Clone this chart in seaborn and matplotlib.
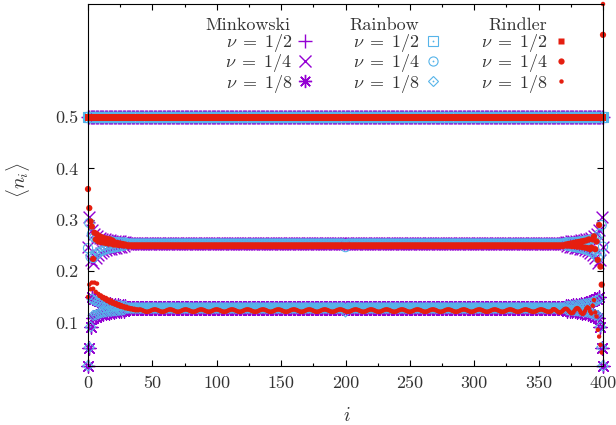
import numpy as np
import matplotlib
matplotlib.use("Agg")
import matplotlib.pyplot as plt
from matplotlib.lines import Line2D
from matplotlib.legend import Legend
import seaborn as sns

# ---------------------------------------------------------------------------
# Occupation numbers <n_i> on a 401-site chain
# Each series: values near the left boundary, the repeating bulk pattern,
# and values near the right boundary.
# ---------------------------------------------------------------------------
n_sites = 401
sites = np.arange(n_sites)

half_bulk = [0.5]

# Minkowski
mink_q_head = [0.248, 0.306, 0.222, 0.280, 0.217, 0.272, 0.226, 0.268, 0.232, 0.265,
               0.236, 0.263, 0.239, 0.262, 0.241, 0.261, 0.243, 0.260, 0.244, 0.259,
               0.245, 0.259, 0.246, 0.258, 0.247, 0.258, 0.248, 0.257, 0.249, 0.257]
mink_q_bulk = [0.2545, 0.2525]
mink_q_tail = [0.257, 0.249, 0.257, 0.248, 0.258, 0.247, 0.258, 0.246, 0.259, 0.245,
               0.259, 0.244, 0.260, 0.243, 0.261, 0.241, 0.262, 0.239, 0.263, 0.236,
               0.265, 0.232, 0.268, 0.226, 0.272, 0.217, 0.280, 0.222, 0.306, 0.248]

mink_e_head = [0.0157, 0.051, 0.0915, 0.150, 0.110, 0.147, 0.112, 0.144, 0.114, 0.142,
               0.116, 0.140, 0.117, 0.139, 0.118, 0.137, 0.119, 0.136, 0.120, 0.135,
               0.121, 0.134, 0.122, 0.134, 0.122, 0.133, 0.123, 0.133, 0.123, 0.132]
mink_e_bulk = [0.1292, 0.1276]
mink_e_tail = [0.132, 0.123, 0.133, 0.123, 0.133, 0.122, 0.134, 0.122, 0.134, 0.121,
               0.135, 0.120, 0.136, 0.119, 0.137, 0.118, 0.139, 0.117, 0.140, 0.116,
               0.142, 0.114, 0.144, 0.112, 0.147, 0.110, 0.150, 0.0915, 0.051, 0.0157]

# Rainbow
rain_q_head = [0.245, 0.294, 0.228, 0.272, 0.226, 0.266, 0.232, 0.264, 0.236, 0.262,
               0.239, 0.261, 0.241, 0.260, 0.243, 0.259, 0.244, 0.258, 0.245, 0.258,
               0.246, 0.257, 0.247, 0.257, 0.248, 0.256, 0.249, 0.256, 0.250, 0.256]
rain_q_bulk = [0.2540, 0.2530]
rain_q_tail = [0.256, 0.250, 0.256, 0.249, 0.256, 0.248, 0.257, 0.247, 0.257, 0.246,
               0.258, 0.245, 0.258, 0.244, 0.259, 0.243, 0.260, 0.241, 0.261, 0.239,
               0.262, 0.236, 0.264, 0.232, 0.266, 0.226, 0.272, 0.232, 0.290, 0.248]
rain_q_mid = {200: 0.247}

rain_e_head = [0.0160, 0.052, 0.092, 0.146, 0.114, 0.143, 0.115, 0.141, 0.117, 0.139,
               0.119, 0.138, 0.120, 0.137, 0.121, 0.136, 0.122, 0.135, 0.122, 0.134,
               0.123, 0.134, 0.123, 0.133, 0.124, 0.133, 0.124, 0.132, 0.125, 0.132]
rain_e_bulk = [0.1290, 0.1280]
rain_e_tail = [0.132, 0.125, 0.132, 0.124, 0.133, 0.124, 0.133, 0.123, 0.134, 0.123,
               0.134, 0.122, 0.135, 0.122, 0.136, 0.121, 0.137, 0.120, 0.138, 0.119,
               0.139, 0.117, 0.141, 0.115, 0.143, 0.114, 0.146, 0.092, 0.052, 0.0160]
rain_e_mid = {200: 0.121}

# Rindler
rind_q_head = [0.360, 0.323, 0.297, 0.287, 0.224, 0.275, 0.262, 0.272, 0.258, 0.268,
               0.257, 0.266, 0.256, 0.264, 0.255, 0.263, 0.254, 0.262, 0.254, 0.260,
               0.252, 0.256, 0.252, 0.255, 0.251, 0.254, 0.251, 0.253, 0.250, 0.252]
rind_q_bulk = [0.2505, 0.2490]
rind_q_tail = [0.252, 0.250, 0.253, 0.250, 0.254, 0.249, 0.255, 0.249, 0.256, 0.248,
               0.257, 0.248, 0.258, 0.247, 0.259, 0.246, 0.260, 0.245, 0.262, 0.243,
               0.246, 0.262, 0.268, 0.243, 0.258, 0.222, 0.290, 0.209, 0.174, 0.660]

rind_e_head = [0.150, 0.174, 0.165, 0.178, 0.166, 0.178, 0.160, 0.176, 0.156, 0.152,
               0.153, 0.148, 0.150, 0.145, 0.148, 0.142, 0.145, 0.139, 0.143, 0.137,
               0.140, 0.135, 0.138, 0.133, 0.136, 0.131, 0.134, 0.130, 0.132, 0.128,
               0.131, 0.127, 0.129, 0.126, 0.128, 0.125, 0.127, 0.124, 0.126, 0.124]
rind_e_bulk = [0.1258, 0.1254, 0.1245, 0.1233, 0.1222, 0.1214,
               0.1212, 0.1216, 0.1225, 0.1237, 0.1248, 0.1256]
rind_e_tail = [0.1258, 0.1262, 0.1250, 0.1230, 0.1210, 0.1198, 0.1200, 0.1215, 0.1240, 0.1262,
               0.1272, 0.1265, 0.1240, 0.1210, 0.1188, 0.1185, 0.1205, 0.1240, 0.1272, 0.1285,
               0.1270, 0.1232, 0.1192, 0.1170, 0.1182, 0.1225, 0.1275, 0.1300, 0.1280, 0.1220,
               0.118, 0.133, 0.144, 0.120, 0.112, 0.086, 0.073, 0.057, 0.042, 0.720]

nu_labels = [r"$\nu\;=\;1/2$", r"$\nu\;=\;1/4$", r"$\nu\;=\;1/8$"]
group_titles = ["Minkowski", "Rainbow", "Rindler"]


def build(head, bulk, tail, mid=None):
    n_bulk = n_sites - len(head) - len(tail)
    reps = -(-n_bulk // len(bulk))
    vals = np.array(list(head) + (list(bulk) * reps)[:n_bulk] + list(tail), dtype=float)
    for k, v in (mid or {}).items():
        vals[k] = v
    return vals


mink = [build([], half_bulk, []),
        build(mink_q_head, mink_q_bulk, mink_q_tail),
        build(mink_e_head, mink_e_bulk, mink_e_tail)]
rain = [build([], half_bulk, []),
        build(rain_q_head, rain_q_bulk, rain_q_tail, rain_q_mid),
        build(rain_e_head, rain_e_bulk, rain_e_tail, rain_e_mid)]
rind = [build([], half_bulk, []),
        build(rind_q_head, rind_q_bulk, rind_q_tail),
        build(rind_e_head, rind_e_bulk, rind_e_tail)]

# ---------------------------------------------------------------------------
PURPLE = "#9400d3"
BLUE = "#56b4e9"
RED = "#e51e10"
TEXT = "#333333"

sns.set_style("ticks")
plt.rcParams.update({
    "font.family": "cmr10",
    "mathtext.fontset": "cm",
    "axes.unicode_minus": False,
    "axes.formatter.use_mathtext": False,
    "font.size": 13,
    "text.color": TEXT,
    "axes.labelcolor": TEXT,
    "xtick.labelcolor": TEXT,
    "ytick.labelcolor": TEXT,
    "axes.edgecolor": "black",
    "axes.linewidth": 0.8,
})

fig = plt.figure(figsize=(6.16, 4.25), dpi=100)
ax = fig.add_axes([88 / 616, 59 / 425, 515 / 616, 362 / 425])

star8 = (8, 2, 0)
mink_style = [dict(marker="+", ms=10.0), dict(marker="x", ms=8.5), dict(marker=star8, ms=9.5)]
rain_style = [dict(marker="s", ms=7.6), dict(marker="o", ms=6.6), dict(marker="D", ms=5.2)]
rind_style = [dict(marker="s", ms=5.0), dict(marker="o", ms=4.5), dict(marker="o", ms=3.2)]

common = dict(ax=ax, legend=False, clip_on=False)

for vals, st in zip(mink, mink_style):
    sns.scatterplot(x=sites, y=vals, marker=st["marker"], s=st["ms"] ** 2,
                    color=PURPLE, linewidth=1.0, zorder=1.0, **common)

for vals, st in zip(rain, rain_style):
    sns.scatterplot(x=sites, y=vals, marker=st["marker"], s=st["ms"] ** 2,
                    facecolor="none", edgecolor=BLUE, color=BLUE, linewidth=0.8,
                    zorder=1.2, **common)
    sns.scatterplot(x=sites, y=vals, marker="o", s=1.3 ** 2,
                    color=BLUE, edgecolor="none", linewidth=0, zorder=1.2, **common)

for vals, st in zip(rind, rind_style):
    sns.scatterplot(x=sites, y=vals, marker=st["marker"], s=st["ms"] ** 2,
                    color=RED, edgecolor="none", linewidth=0, zorder=1.4, **common)

# axes ranges follow the data extent
all_vals = np.concatenate(mink + rain + rind)
ax.set_xlim(0, 400)
ax.set_ylim(all_vals.min(), all_vals.max())

ax.set_xticks(np.arange(0, 401, 50))
ax.set_xticks(np.arange(25, 400, 50), minor=True)
ax.set_yticks([0.1, 0.2, 0.3, 0.4, 0.5])
ax.set_yticklabels(["0.1", "0.2", "0.3", "0.4", "0.5"])
ax.tick_params(which="both", direction="in", top=True, right=True, width=0.8,
               color="black")
ax.tick_params(which="major", length=4.5, labelsize=13)
ax.tick_params(axis="x", which="major", pad=7)
ax.tick_params(axis="y", which="major", pad=7)
ax.tick_params(which="minor", length=2.3)

ax.set_xlabel(r"$i$", fontsize=14)
ax.set_ylabel(r"$\langle n_i \rangle$", fontsize=14)
ax.xaxis.set_label_coords(0.503, -0.112)
ax.yaxis.set_label_coords(-0.108, 0.514)

# legend: three columns, one per geometry
def handles_for(styles, color, kind):
    out = []
    for st in styles:
        if kind == "line":
            out.append(Line2D([], [], ls="none", marker=st["marker"], ms=st["ms"],
                              color=color, mew=1.0))
        elif kind == "open":
            box = Line2D([], [], ls="none", marker=st["marker"], ms=st["ms"],
                         mfc="none", mec=color, mew=0.8)
            dot = Line2D([], [], ls="none", marker="o", ms=1.3, mfc=color, mec="none")
            out.append((box, dot))
        else:
            out.append(Line2D([], [], ls="none", marker=st["marker"], ms=st["ms"],
                              mfc=color, mec="none"))
    return out

legend_cols = [
    (handles_for(mink_style, PURPLE, "line"), 314, 248),
    (handles_for(rain_style, BLUE, "open"), 441.7, 384),
    (handles_for(rind_style, RED, "fill"), 569.7, 518),
]
for (hs, x_right, x_title), title in zip(legend_cols, group_titles):
    leg = Legend(ax, hs, nu_labels, loc="center right",
                 bbox_to_anchor=(x_right / 616, 1 - 63.3 / 425),
                 bbox_transform=fig.transFigure, frameon=False, markerfirst=False,
                 handlelength=1.0, handletextpad=0.22, borderpad=0, borderaxespad=0,
                 labelspacing=-0.09, fontsize=13, numpoints=1)
    ax.add_artist(leg)
    fig.text(x_title / 616, 1 - 29.5 / 425, title, ha="center", va="baseline",
             fontsize=13, color=TEXT)

fig.savefig("out.png", dpi=100)
